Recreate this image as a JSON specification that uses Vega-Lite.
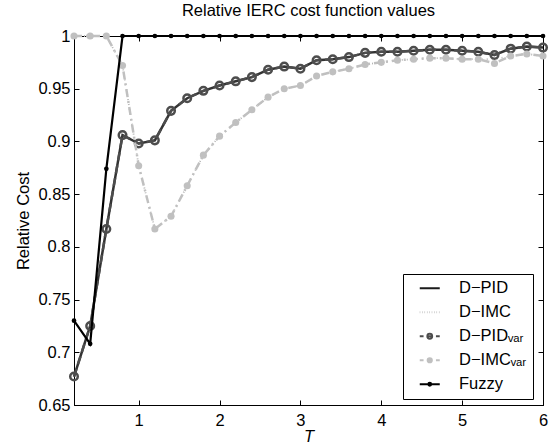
{
  "$schema": "https://vega.github.io/schema/vega-lite/v6.json",
  "width": 469,
  "height": 369,
  "autosize": {"type": "none"},
  "padding": {"left": 74, "top": 36, "right": 8, "bottom": 41},
  "background": "white",
  "title": {"text": "Relative IERC cost function values", "font": "Liberation Sans", "fontSize": 16.5, "fontWeight": "normal", "color": "black", "offset": 9, "anchor": "middle"},
  "config": {
    "view": {"stroke": "black", "strokeWidth": 1},
    "font": "Liberation Sans",
    "axis": {
      "grid": false,
      "domainColor": "black",
      "domainWidth": 1,
      "tickColor": "black",
      "tickSize": -5,
      "tickWidth": 1,
      "labelColor": "black",
      "labelFont": "Liberation Sans",
      "labelFontSize": 16.5,
      "labelFlush": false,
      "labelOverlap": false,
      "titleFont": "Liberation Sans",
      "titleFontSize": 16.5,
      "titleFontWeight": "normal",
      "titleColor": "black"
    },
    "legend": {
      "strokeColor": "black",
      "fillColor": "white",
      "padding": 6,
      "labelFont": "Liberation Sans",
      "labelFontSize": 16.5,
      "labelColor": "black",
      "labelLimit": 300,
      "symbolStrokeWidth": 2,
      "rowPadding": 7
    }
  },
  "data": {
    "values": [
      {"series": "D-PID", "T": 0.2, "cost": 0.677}, {"series": "D-PID", "T": 0.4, "cost": 0.725}, {"series": "D-PID", "T": 0.6, "cost": 0.817}, {"series": "D-PID", "T": 0.8, "cost": 0.906}, {"series": "D-PID", "T": 1.0, "cost": 0.898}, {"series": "D-PID", "T": 1.2, "cost": 0.901}, {"series": "D-PID", "T": 1.4, "cost": 0.929}, {"series": "D-PID", "T": 1.6, "cost": 0.941}, {"series": "D-PID", "T": 1.8, "cost": 0.948}, {"series": "D-PID", "T": 2.0, "cost": 0.953}, {"series": "D-PID", "T": 2.2, "cost": 0.957}, {"series": "D-PID", "T": 2.4, "cost": 0.961}, {"series": "D-PID", "T": 2.6, "cost": 0.968}, {"series": "D-PID", "T": 2.8, "cost": 0.971}, {"series": "D-PID", "T": 3.0, "cost": 0.969}, {"series": "D-PID", "T": 3.2, "cost": 0.977}, {"series": "D-PID", "T": 3.4, "cost": 0.978}, {"series": "D-PID", "T": 3.6, "cost": 0.980}, {"series": "D-PID", "T": 3.8, "cost": 0.984}, {"series": "D-PID", "T": 4.0, "cost": 0.985}, {"series": "D-PID", "T": 4.2, "cost": 0.985}, {"series": "D-PID", "T": 4.4, "cost": 0.986}, {"series": "D-PID", "T": 4.6, "cost": 0.987}, {"series": "D-PID", "T": 4.8, "cost": 0.987}, {"series": "D-PID", "T": 5.0, "cost": 0.986}, {"series": "D-PID", "T": 5.2, "cost": 0.985}, {"series": "D-PID", "T": 5.4, "cost": 0.982}, {"series": "D-PID", "T": 5.6, "cost": 0.988}, {"series": "D-PID", "T": 5.8, "cost": 0.990}, {"series": "D-PID", "T": 6.0, "cost": 0.989},
      {"series": "D-IMC", "T": 0.2, "cost": 1.0}, {"series": "D-IMC", "T": 0.4, "cost": 1.0}, {"series": "D-IMC", "T": 0.6, "cost": 1.0}, {"series": "D-IMC", "T": 0.8, "cost": 0.972}, {"series": "D-IMC", "T": 1.0, "cost": 0.877}, {"series": "D-IMC", "T": 1.2, "cost": 0.817}, {"series": "D-IMC", "T": 1.4, "cost": 0.829}, {"series": "D-IMC", "T": 1.6, "cost": 0.858}, {"series": "D-IMC", "T": 1.8, "cost": 0.887}, {"series": "D-IMC", "T": 2.0, "cost": 0.905}, {"series": "D-IMC", "T": 2.2, "cost": 0.918}, {"series": "D-IMC", "T": 2.4, "cost": 0.930}, {"series": "D-IMC", "T": 2.6, "cost": 0.942}, {"series": "D-IMC", "T": 2.8, "cost": 0.950}, {"series": "D-IMC", "T": 3.0, "cost": 0.953}, {"series": "D-IMC", "T": 3.2, "cost": 0.962}, {"series": "D-IMC", "T": 3.4, "cost": 0.966}, {"series": "D-IMC", "T": 3.6, "cost": 0.969}, {"series": "D-IMC", "T": 3.8, "cost": 0.973}, {"series": "D-IMC", "T": 4.0, "cost": 0.975}, {"series": "D-IMC", "T": 4.2, "cost": 0.977}, {"series": "D-IMC", "T": 4.4, "cost": 0.978}, {"series": "D-IMC", "T": 4.6, "cost": 0.979}, {"series": "D-IMC", "T": 4.8, "cost": 0.979}, {"series": "D-IMC", "T": 5.0, "cost": 0.978}, {"series": "D-IMC", "T": 5.2, "cost": 0.978}, {"series": "D-IMC", "T": 5.4, "cost": 0.978}, {"series": "D-IMC", "T": 5.6, "cost": 0.981}, {"series": "D-IMC", "T": 5.8, "cost": 0.983}, {"series": "D-IMC", "T": 6.0, "cost": 0.981},
      {"series": "D-PID_var", "T": 0.2, "cost": 0.677}, {"series": "D-PID_var", "T": 0.4, "cost": 0.725}, {"series": "D-PID_var", "T": 0.6, "cost": 0.817}, {"series": "D-PID_var", "T": 0.8, "cost": 0.906}, {"series": "D-PID_var", "T": 1.0, "cost": 0.898}, {"series": "D-PID_var", "T": 1.2, "cost": 0.901}, {"series": "D-PID_var", "T": 1.4, "cost": 0.929}, {"series": "D-PID_var", "T": 1.6, "cost": 0.941}, {"series": "D-PID_var", "T": 1.8, "cost": 0.948}, {"series": "D-PID_var", "T": 2.0, "cost": 0.953}, {"series": "D-PID_var", "T": 2.2, "cost": 0.957}, {"series": "D-PID_var", "T": 2.4, "cost": 0.961}, {"series": "D-PID_var", "T": 2.6, "cost": 0.968}, {"series": "D-PID_var", "T": 2.8, "cost": 0.971}, {"series": "D-PID_var", "T": 3.0, "cost": 0.969}, {"series": "D-PID_var", "T": 3.2, "cost": 0.977}, {"series": "D-PID_var", "T": 3.4, "cost": 0.978}, {"series": "D-PID_var", "T": 3.6, "cost": 0.980}, {"series": "D-PID_var", "T": 3.8, "cost": 0.984}, {"series": "D-PID_var", "T": 4.0, "cost": 0.985}, {"series": "D-PID_var", "T": 4.2, "cost": 0.985}, {"series": "D-PID_var", "T": 4.4, "cost": 0.986}, {"series": "D-PID_var", "T": 4.6, "cost": 0.987}, {"series": "D-PID_var", "T": 4.8, "cost": 0.987}, {"series": "D-PID_var", "T": 5.0, "cost": 0.986}, {"series": "D-PID_var", "T": 5.2, "cost": 0.985}, {"series": "D-PID_var", "T": 5.4, "cost": 0.982}, {"series": "D-PID_var", "T": 5.6, "cost": 0.988}, {"series": "D-PID_var", "T": 5.8, "cost": 0.990}, {"series": "D-PID_var", "T": 6.0, "cost": 0.989},
      {"series": "D-IMC_var", "T": 0.2, "cost": 1.0}, {"series": "D-IMC_var", "T": 0.4, "cost": 1.0}, {"series": "D-IMC_var", "T": 0.6, "cost": 1.0}, {"series": "D-IMC_var", "T": 0.8, "cost": 0.972}, {"series": "D-IMC_var", "T": 1.0, "cost": 0.877}, {"series": "D-IMC_var", "T": 1.2, "cost": 0.817}, {"series": "D-IMC_var", "T": 1.4, "cost": 0.829}, {"series": "D-IMC_var", "T": 1.6, "cost": 0.858}, {"series": "D-IMC_var", "T": 1.8, "cost": 0.887}, {"series": "D-IMC_var", "T": 2.0, "cost": 0.905}, {"series": "D-IMC_var", "T": 2.2, "cost": 0.918}, {"series": "D-IMC_var", "T": 2.4, "cost": 0.930}, {"series": "D-IMC_var", "T": 2.6, "cost": 0.942}, {"series": "D-IMC_var", "T": 2.8, "cost": 0.950}, {"series": "D-IMC_var", "T": 3.0, "cost": 0.953}, {"series": "D-IMC_var", "T": 3.2, "cost": 0.962}, {"series": "D-IMC_var", "T": 3.4, "cost": 0.966}, {"series": "D-IMC_var", "T": 3.6, "cost": 0.969}, {"series": "D-IMC_var", "T": 3.8, "cost": 0.973}, {"series": "D-IMC_var", "T": 4.0, "cost": 0.975}, {"series": "D-IMC_var", "T": 4.2, "cost": 0.977}, {"series": "D-IMC_var", "T": 4.4, "cost": 0.978}, {"series": "D-IMC_var", "T": 4.6, "cost": 0.979}, {"series": "D-IMC_var", "T": 4.8, "cost": 0.979}, {"series": "D-IMC_var", "T": 5.0, "cost": 0.978}, {"series": "D-IMC_var", "T": 5.2, "cost": 0.978}, {"series": "D-IMC_var", "T": 5.4, "cost": 0.974}, {"series": "D-IMC_var", "T": 5.6, "cost": 0.981}, {"series": "D-IMC_var", "T": 5.8, "cost": 0.983}, {"series": "D-IMC_var", "T": 6.0, "cost": 0.981},
      {"series": "Fuzzy", "T": 0.2, "cost": 0.730}, {"series": "Fuzzy", "T": 0.4, "cost": 0.708}, {"series": "Fuzzy", "T": 0.6, "cost": 0.874}, {"series": "Fuzzy", "T": 0.8, "cost": 1.0}, {"series": "Fuzzy", "T": 1.0, "cost": 1.0}, {"series": "Fuzzy", "T": 1.2, "cost": 1.0}, {"series": "Fuzzy", "T": 1.4, "cost": 1.0}, {"series": "Fuzzy", "T": 1.6, "cost": 1.0}, {"series": "Fuzzy", "T": 1.8, "cost": 1.0}, {"series": "Fuzzy", "T": 2.0, "cost": 1.0}, {"series": "Fuzzy", "T": 2.2, "cost": 1.0}, {"series": "Fuzzy", "T": 2.4, "cost": 1.0}, {"series": "Fuzzy", "T": 2.6, "cost": 1.0}, {"series": "Fuzzy", "T": 2.8, "cost": 1.0}, {"series": "Fuzzy", "T": 3.0, "cost": 1.0}, {"series": "Fuzzy", "T": 3.2, "cost": 1.0}, {"series": "Fuzzy", "T": 3.4, "cost": 1.0}, {"series": "Fuzzy", "T": 3.6, "cost": 1.0}, {"series": "Fuzzy", "T": 3.8, "cost": 1.0}, {"series": "Fuzzy", "T": 4.0, "cost": 1.0}, {"series": "Fuzzy", "T": 4.2, "cost": 1.0}, {"series": "Fuzzy", "T": 4.4, "cost": 1.0}, {"series": "Fuzzy", "T": 4.6, "cost": 1.0}, {"series": "Fuzzy", "T": 4.8, "cost": 1.0}, {"series": "Fuzzy", "T": 5.0, "cost": 1.0}, {"series": "Fuzzy", "T": 5.2, "cost": 1.0}, {"series": "Fuzzy", "T": 5.4, "cost": 1.0}, {"series": "Fuzzy", "T": 5.6, "cost": 1.0}, {"series": "Fuzzy", "T": 5.8, "cost": 1.0}, {"series": "Fuzzy", "T": 6.0, "cost": 1.0}
    ]
  },
  "layer": [
    {
      "encoding": {
        "x": {"field": "T", "type": "quantitative", "scale": {"domain": [0.2, 6], "nice": false, "zero": false},
              "axis": {"orient": "bottom", "values": [1, 2, 3, 4, 5, 6], "title": "T", "titleFontStyle": "italic", "labelPadding": 12, "titlePadding": 0}},
        "y": {"field": "cost", "type": "quantitative", "scale": {"domain": [0.65, 1], "nice": false, "zero": false},
              "axis": {"orient": "left", "values": [0.65, 0.7, 0.75, 0.8, 0.85, 0.9, 0.95, 1], "format": "~g", "title": "Relative Cost", "labelPadding": 9, "titlePadding": 6}}
      },
      "layer": [
        {"transform": [{"filter": "datum.series == 'D-PID'"}], "mark": {"type": "line", "stroke": "#333333", "strokeWidth": 2.5}, "encoding": {}},
        {"transform": [{"filter": "datum.series == 'D-IMC'"}], "mark": {"type": "line", "stroke": "#b5b5b5", "strokeWidth": 1.8, "strokeDash": [1, 4]}, "encoding": {}},
        {"transform": [{"filter": "datum.series == 'D-PID_var'"}], "mark": {"type": "line", "stroke": "#4d4d4d", "strokeWidth": 2.5, "strokeDash": [8, 5]}, "encoding": {}},
        {"transform": [{"filter": "datum.series == 'D-PID_var'"}], "mark": {"type": "point", "shape": "circle", "filled": false, "size": 57, "strokeWidth": 2.5, "stroke": "#4d4d4d", "opacity": 1}, "encoding": {}},
        {"transform": [{"filter": "datum.series == 'D-IMC_var'"}], "mark": {"type": "line", "stroke": "#c0c0c0", "strokeWidth": 2.5, "strokeDash": [8, 4, 2, 4]}, "encoding": {}},
        {"transform": [{"filter": "datum.series == 'D-IMC_var'"}], "mark": {"type": "circle", "size": 50, "color": "#c0c0c0", "opacity": 1}, "encoding": {}},
        {"transform": [{"filter": "datum.series == 'Fuzzy'"}], "mark": {"type": "line", "stroke": "#000000", "strokeWidth": 2.2}, "encoding": {}},
        {"transform": [{"filter": "datum.series == 'Fuzzy'"}], "mark": {"type": "circle", "size": 22, "color": "#000000", "opacity": 1}, "encoding": {}},
        {
          "transform": [{"filter": "datum.cost > 5"}],
          "mark": {"type": "point", "filled": false, "size": 441, "opacity": 1, "strokeWidth": 2},
          "encoding": {
            "color": {"field": "series", "type": "nominal",
              "scale": {"domain": ["D-PID", "D-IMC", "D-PID_var", "D-IMC_var", "Fuzzy"], "range": ["#1a1a1a", "#b0b0b0", "#4d4d4d", "#c0c0c0", "#000000"]},
              "legend": {"title": null, "orient": "none", "legendX": 329, "legendY": 238, "padding": 6, "rowPadding": 7, "labelFontSize": 16.5, "symbolOffset": 12.5, "labelOffset": 21, "labelExpr": "datum.label == 'D-PID_var' ? 'D−PIDᵥₐᵣ' : datum.label == 'D-IMC_var' ? 'D−IMCᵥₐᵣ' : datum.label == 'D-PID' ? 'D−PID' : datum.label == 'D-IMC' ? 'D−IMC' : datum.label"}},
            "shape": {"field": "series", "type": "nominal",
              "scale": {"domain": ["D-PID", "D-IMC", "D-PID_var", "D-IMC_var", "Fuzzy"], "range": [
                "M-2,0H2",
                "M-2,0h0.1M-1.52,0h0.1M-1.04,0h0.1M-0.56,0h0.1M-0.08,0h0.1M0.4,0h0.1M0.88,0h0.1M1.36,0h0.1M1.84,0h0.1",
                "M-2,0H-1.24M-0.45,0H0.45M1.24,0H2M0.48,0A0.48,0.48,0,1,1,-0.48,0A0.48,0.48,0,1,1,0.48,0Z",
                "M-2,0H-1.24M1.24,0H2M0.42,0A0.42,0.42,0,1,1,-0.42,0A0.42,0.42,0,1,1,0.42,0Z",
                "M-2,0H2M0.28,0A0.28,0.28,0,1,1,-0.28,0A0.28,0.28,0,1,1,0.28,0Z"
              ]},
              "legend": {"title": null, "orient": "none", "legendX": 329, "legendY": 238, "padding": 6, "rowPadding": 7, "labelFontSize": 16.5, "symbolOffset": 12.5, "labelOffset": 21, "labelExpr": "datum.label == 'D-PID_var' ? 'D−PIDᵥₐᵣ' : datum.label == 'D-IMC_var' ? 'D−IMCᵥₐᵣ' : datum.label == 'D-PID' ? 'D−PID' : datum.label == 'D-IMC' ? 'D−IMC' : datum.label"}},
            "fill": {"field": "series", "type": "nominal",
              "scale": {"domain": ["D-PID", "D-IMC", "D-PID_var", "D-IMC_var", "Fuzzy"], "range": ["transparent", "transparent", "transparent", "#c0c0c0", "#000000"]},
              "legend": {"title": null, "orient": "none", "legendX": 329, "legendY": 238, "padding": 6, "rowPadding": 7, "labelFontSize": 16.5, "symbolOffset": 12.5, "labelOffset": 21, "labelExpr": "datum.label == 'D-PID_var' ? 'D−PIDᵥₐᵣ' : datum.label == 'D-IMC_var' ? 'D−IMCᵥₐᵣ' : datum.label == 'D-PID' ? 'D−PID' : datum.label == 'D-IMC' ? 'D−IMC' : datum.label"}}
          }
        }
      ]
    },
    {
      "transform": [{"filter": "datum.cost > 5"}],
      "mark": {"type": "point", "opacity": 0},
      "encoding": {
        "x": {"field": "T", "type": "quantitative", "scale": {"domain": [0.2, 6], "nice": false, "zero": false},
              "axis": {"orient": "top", "values": [1, 2, 3, 4, 5, 6], "labels": false, "title": null, "domain": false}},
        "y": {"field": "cost", "type": "quantitative", "scale": {"domain": [0.65, 1], "nice": false, "zero": false},
              "axis": {"orient": "right", "values": [0.65, 0.7, 0.75, 0.8, 0.85, 0.9, 0.95, 1], "labels": false, "title": null, "domain": false}}
      }
    }
  ],
  "resolve": {"axis": {"x": "independent", "y": "independent"}}
}
